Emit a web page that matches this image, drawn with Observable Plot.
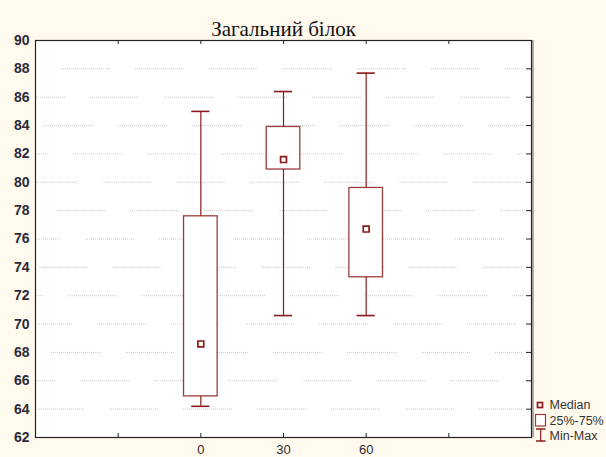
<!DOCTYPE html>
<html><head><meta charset="utf-8">
<script src="https://cdn.jsdelivr.net/npm/d3@7"></script>
<script src="https://cdn.jsdelivr.net/npm/@observablehq/plot@0.6"></script>
<style>
html,body{margin:0;padding:0;background:#fff9ee;}
#wrap{position:relative;width:606px;height:457px;}
#legend{position:absolute;left:530px;top:395px;}
</style></head><body><div id="wrap"></div>
<script>
const title = "Загальний білок";
const groups = [0, 30, 60];
const mins = [64.2, 70.6, 70.6];
const q1s = [64.9, 80.9, 73.3];
const medians = [68.6, 81.6, 76.7];
const q3s = [77.6, 83.9, 79.6];
const maxs = [85.0, 86.4, 87.7];
const yTicks = [62, 64, 66, 68, 70, 72, 74, 76, 78, 80, 82, 84, 86, 88, 90];
const gridVals = [64, 66, 68, 70, 72, 74, 76, 78, 80, 82, 84, 86, 88];
const xFrameTicks = [-30, 0, 30, 60, 90];
const legendLabels = ["Median", "25%-75%", "Min-Max"];

const data = groups.map((g, i) => ({g, min: mins[i], q1: q1s[i], median: medians[i], q3: q3s[i], max: maxs[i]}));

const red = "#8b1a1a";
const boxHalf = 6.1, capHalf = 3.3;
const font = "'Liberation Sans Narrow','Liberation Sans',Arial,sans-serif";

// dotted, segmented grid pattern
const seg = [];
for (let i = 0; i < 25; i++) seg.push(1, i === 24 ? 25 : 1);
const dash = seg.join(",");

const gridMarks = gridVals.map((v, i) =>
  Plot.ruleY([v], {y: d => d, stroke: "#c9c9c9", strokeWidth: 1, strokeDasharray: dash, strokeDashoffset: (i * 29) % 75, insetRight: 8})
);

const chart = Plot.plot({
  width: 606, height: 457,
  marginLeft: 35, marginRight: 75, marginTop: 40, marginBottom: 20,
  style: {background: "transparent", fontFamily: "'Liberation Sans',Arial,sans-serif", overflow: "visible"},
  x: {domain: [-60, 120]},
  y: {domain: [62, 90]},
  marks: [
    Plot.frame({fill: "white", stroke: null}),
    ...gridMarks,
    Plot.ruleX(data, {x: "g", y1: "min", y2: "max", stroke: red, strokeWidth: 1.2}),
    Plot.ruleY(data, {y: "min", x1: d => d.g - capHalf, x2: d => d.g + capHalf, stroke: red, strokeWidth: 1.6}),
    Plot.ruleY(data, {y: "max", x1: d => d.g - capHalf, x2: d => d.g + capHalf, stroke: red, strokeWidth: 1.6}),
    Plot.rect(data, {x1: d => d.g - boxHalf, x2: d => d.g + boxHalf, y1: "q1", y2: "q3", fill: "white", stroke: red, strokeWidth: 1.3, strokeOpacity: 0.85}),
    Plot.dot(data, {x: "g", y: "median", symbol: "square", r: 3.3, fill: "white", stroke: red, strokeWidth: 1.7}),
    Plot.tickX(xFrameTicks, {x: d => d, insetTop: 393, stroke: "#222"}),
    Plot.tickX(xFrameTicks, {x: d => d, insetBottom: 393, stroke: "#222"}),
    Plot.tickY(yTicks, {y: d => d, insetLeft: 491, stroke: "#222"}),
    Plot.frame({stroke: "#222", strokeWidth: 1.2}),
    Plot.ruleX([120], {x: d => d, dx: 1.5, stroke: "#777", strokeWidth: 1.2}),
    Plot.axisY(yTicks, {tickSize: 0, tickPadding: 6, fontSize: 14, fontWeight: "bold", fill: "#2b2b3a", fontFamily: font, label: null}),
    Plot.axisX(groups, {tickSize: 0, tickPadding: 7, fontSize: 13, fill: "#2b2b2b", fontFamily: font, label: null}),
    Plot.text([title], {text: d => d, frameAnchor: "top", dy: -19, fontSize: 21, fontFamily: "'Liberation Serif','Times New Roman',serif", fill: "#111"})
  ]
});
document.getElementById("wrap").appendChild(chart);

// legend (bottom right)
const lg = d3.select("#wrap").append("svg").attr("id", "legend").attr("width", 76).attr("height", 52);
lg.append("rect").attr("x", 7.5).attr("y", 7.5).attr("width", 5).attr("height", 5).attr("fill", "white").attr("stroke", red).attr("stroke-width", 1.7);
lg.append("rect").attr("x", 5.5).attr("y", 19.5).attr("width", 10).attr("height", 11.5).attr("fill", "white").attr("stroke", red).attr("stroke-width", 1.2).attr("stroke-opacity", 0.85);
lg.append("line").attr("x1", 10.7).attr("x2", 10.7).attr("y1", 34).attr("y2", 46).attr("stroke", red).attr("stroke-width", 1.2);
lg.append("line").attr("x1", 6).attr("x2", 15.5).attr("y1", 34).attr("y2", 34).attr("stroke", red).attr("stroke-width", 1.5);
lg.append("line").attr("x1", 6).attr("x2", 15.5).attr("y1", 46).attr("y2", 46).attr("stroke", red).attr("stroke-width", 1.5);
const baselines = [14.3, 30, 45];
legendLabels.forEach((t, i) => {
  lg.append("text").attr("x", 19.5).attr("y", baselines[i]).text(t)
    .attr("font-family", "'Liberation Sans',Arial,sans-serif").attr("font-size", 12.5).attr("fill", "#333");
});
</script></body></html>
